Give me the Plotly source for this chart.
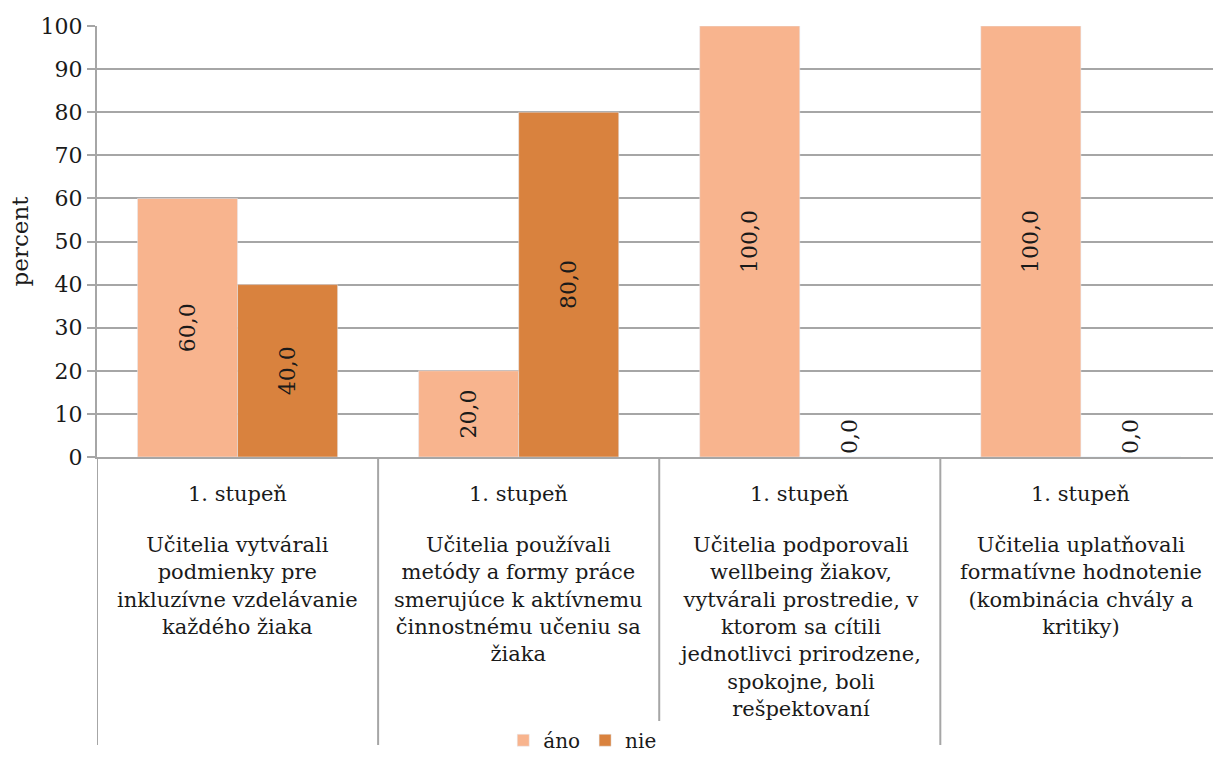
import plotly.graph_objects as go

categories = ["c1", "c2", "c3", "c4"]
top_labels = ["1. stupeň", "1. stupeň", "1. stupeň", "1. stupeň"]
descriptions = [
    "Učitelia vytvárali<br>podmienky pre<br>inkluzívne vzdelávanie<br>každého žiaka",
    "Učitelia používali<br>metódy a formy práce<br>smerujúce k aktívnemu<br>činnostnému učeniu sa<br>žiaka",
    "Učitelia podporovali<br>wellbeing žiakov,<br>vytvárali prostredie, v<br>ktorom sa cítili<br>jednotlivci prirodzene,<br>spokojne, boli<br>rešpektovaní",
    "Učitelia uplatňovali<br>formatívne hodnotenie<br>(kombinácia chvály a<br>kritiky)",
]
ano = [60.0, 20.0, 100.0, 100.0]
nie = [40.0, 80.0, 0.0, 0.0]
y_ticks = [0, 10, 20, 30, 40, 50, 60, 70, 80, 90, 100]

FONT = "DejaVu Serif"
TXT = "#1a1a1a"
GRID = "#a6a6a6"

def fmt(v):
    return f"{v:.1f}".replace(".", ",")

xs = list(range(len(categories)))

fig = go.Figure()
for name, vals, col in [("áno", ano, "#F8B48E"), ("nie", nie, "#D9823E")]:
    fig.add_trace(go.Bar(
        x=xs, y=vals, name=name, marker_color=col,
        text=[fmt(v) for v in vals], textangle=-90,
        textposition=["inside" if v > 0 else "outside" for v in vals],
        insidetextanchor="middle",
        textfont=dict(family=FONT, size=22, color=TXT),
        cliponaxis=False,
    ))

div_bottom = -0.668
for i in range(len(categories)):
    fig.add_shape(type="line", xref="x", yref="paper", x0=i - 0.5, x1=i - 0.5,
                  y0=0, y1=div_bottom, line=dict(color=GRID, width=2))
    fig.add_annotation(x=i, xref="x", y=-0.085, yref="paper", yanchor="middle",
                       showarrow=False, text=top_labels[i],
                       font=dict(family=FONT, size=21, color=TXT), align="center")
    fig.add_annotation(x=i, xref="x", y=-0.172, yref="paper", yanchor="top",
                       showarrow=False, text=descriptions[i],
                       font=dict(family=FONT, size=21, color=TXT), align="center")

fig.update_layout(
    width=1213, height=762,
    margin=dict(l=97, r=0, t=26, b=305),
    plot_bgcolor="white", paper_bgcolor="white",
    barmode="group", bargap=0.288, bargroupgap=0,
    font=dict(family=FONT, color=TXT),
    showlegend=True,
    legend=dict(orientation="h", x=0.48, xref="container", xanchor="center",
                y=0.003, yref="container", yanchor="bottom",
                font=dict(family=FONT, size=20, color=TXT),
                traceorder="normal", itemwidth=30,
                tracegroupgap=0),
    xaxis=dict(range=[-0.5, 3.47], showticklabels=False, showgrid=False,
               showline=True, linecolor=GRID, linewidth=2, zeroline=False,
               ticks=""),
    yaxis=dict(range=[0, 100], tickvals=y_ticks, showgrid=True, gridcolor=GRID,
               gridwidth=2, showline=True, linecolor=GRID, linewidth=2,
               ticks="outside", ticklen=8, tickcolor=GRID, tickwidth=2,
               zeroline=False,
               tickfont=dict(family=FONT, size=22, color=TXT),
               title=dict(text="percent", font=dict(family=FONT, size=23, color=TXT),
                          standoff=6)),
)

fig.write_html("out.html", config={"displayModeBar": False},
               post_script="document.body.style.margin='0px';document.body.style.overflow='hidden';")
